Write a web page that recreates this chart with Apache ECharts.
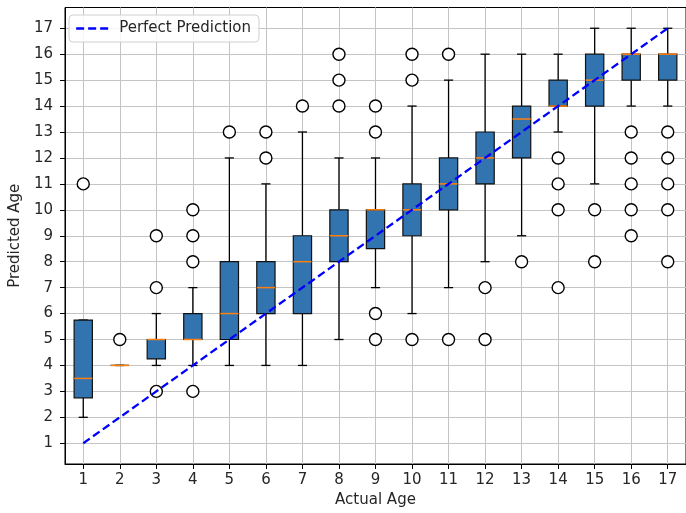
<!DOCTYPE html>
<html>
<head>
<meta charset="utf-8">
<script src="https://cdn.jsdelivr.net/npm/echarts@6/dist/echarts.min.js"></script>
<style>
html,body{margin:0;padding:0;background:#fff;}
#chart{width:686px;height:513px;}
</style>
</head>
<body>
<div id="chart"></div>
<script>
// ---- data ----
const categories = ['1','2','3','4','5','6','7','8','9','10','11','12','13','14','15','16','17'];
const whiskerLow  = [2,    4, 4,    4, 4, 4, 4, 5, 7,   6,  7,  8,  9,    13, 11, 14, 14];
const q1          = [2.75, 4, 4.25, 5, 5, 6, 6, 8, 8.5, 9,  10, 11, 12,   14, 14, 15, 15];
const median      = [3.5,  4, 5,    5, 6, 7, 8, 9, 10,  10, 11, 12, 13.5, 14, 15, 16, 16];
const q3          = [5.75, 4, 5,    6, 8, 8, 9, 10,10,  11, 12, 13, 14,   15, 16, 16, 16];
const whiskerHigh = [5.75, 4, 6,    7, 12,11,13,12,12,  14, 15, 16, 16,   16, 17, 17, 17];
const outliers = [
  [11], [5], [3,7,9], [3,8,9,10], [13], [12,13], [14], [14,15,16],
  [5,6,13,14], [5,15,16], [5,16], [5,7], [8], [7,10,11,12], [8,10],
  [9,10,11,12,13], [8,10,11,12,13]
];
const perfectX = ['1','17'];
const perfectY = [1, 17];
const yTicks = [1,2,3,4,5,6,7,8,9,10,11,12,13,14,15,16,17];

// ---- build series data ----
const boxData = categories.map((c, i) => [i, whiskerLow[i], q1[i], median[i], q3[i], whiskerHigh[i]]);
const outlierData = [];
outliers.forEach((arr, i) => arr.forEach(v => outlierData.push([i, v])));
const lineData = perfectX.map((x, i) => [x, perfectY[i]]);

const FONT = 'DejaVu Sans';
const TXT = '#262626';

const chart = echarts.init(document.getElementById('chart'), null, {renderer: 'canvas'});
chart.setOption({
  animation: false,
  backgroundColor: '#ffffff',
  textStyle: {fontFamily: FONT},
  grid: {
    left: 61.5, top: 7.5, width: 630.3, height: 456.5,
    show: true, borderColor: '#000', borderWidth: 1, backgroundColor: 'transparent',
    containLabel: false
  },
  legend: {
    left: 69, top: 15,
    data: ['Perfect Prediction'],
    orient: 'horizontal',
    backgroundColor: 'rgba(255,255,255,0.85)',
    borderColor: '#d0d0d0', borderWidth: 1, borderRadius: 4,
    padding: [6, 8, 6, 6],
    itemWidth: 32, itemHeight: 14,
    textStyle: {fontFamily: FONT, fontSize: 15, color: TXT, padding: [0, 0, 0, 6]},
    itemStyle: {opacity: 0},
    lineStyle: {type: [8, 4], width: 2.3, color: '#0000ff'}
  },
  xAxis: {
    type: 'category',
    data: categories,
    boundaryGap: true,
    name: 'Actual Age',
    nameLocation: 'middle',
    nameGap: 29,
    nameTextStyle: {fontFamily: FONT, fontSize: 15, color: TXT},
    axisLine: {show: true, lineStyle: {color: '#000', width: 1}},
    axisTick: {show: true, alignWithLabel: true, length: 5, lineStyle: {color: '#000', width: 1}},
    axisLabel: {fontFamily: FONT, fontSize: 15, color: TXT, margin: 9, interval: 0},
    splitLine: {show: true, alignWithLabel: true, interval: 0, lineStyle: {color: '#c4c4c4', width: 1}}
  },
  yAxis: {
    type: 'value',
    min: 0.2, max: 17.8,
    splitNumber: 17,
    name: 'Predicted Age',
    nameLocation: 'middle',
    nameGap: 36,
    nameTextStyle: {fontFamily: FONT, fontSize: 15, color: TXT},
    axisLine: {show: true, lineStyle: {color: '#000', width: 1}},
    axisTick: {show: true, length: 5, customValues: yTicks, lineStyle: {color: '#000', width: 1}},
    axisLabel: {fontFamily: FONT, fontSize: 15, color: TXT, margin: 12, customValues: yTicks},
    splitLine: {show: true, lineStyle: {color: '#c4c4c4', width: 1}}
  },
  series: [
    {
      name: 'box',
      type: 'custom',
      data: boxData,
      encode: {x: 0, y: [1, 2, 3, 4, 5]},
      clip: false,
      z: 3,
      renderItem: function (params, api) {
        const x = api.value(0);
        const pLo = api.coord([x, api.value(1)]);
        const pQ1 = api.coord([x, api.value(2)]);
        const pMd = api.coord([x, api.value(3)]);
        const pQ3 = api.coord([x, api.value(4)]);
        const pHi = api.coord([x, api.value(5)]);
        const band = api.size([1, 0])[0];
        const bw = band * 0.5, cw = band * 0.25;
        const cx = pLo[0];
        const wStyle = {stroke: '#000', lineWidth: 1.3, fill: null};
        return {
          type: 'group',
          children: [
            {type: 'line', shape: {x1: cx, y1: pQ1[1], x2: cx, y2: pLo[1]}, style: wStyle},
            {type: 'line', shape: {x1: cx, y1: pQ3[1], x2: cx, y2: pHi[1]}, style: wStyle},
            {type: 'line', shape: {x1: cx - cw / 2, y1: pLo[1], x2: cx + cw / 2, y2: pLo[1]}, style: wStyle},
            {type: 'line', shape: {x1: cx - cw / 2, y1: pHi[1], x2: cx + cw / 2, y2: pHi[1]}, style: wStyle},
            {type: 'rect', shape: {x: cx - bw / 2, y: pQ3[1], width: bw, height: pQ1[1] - pQ3[1]},
              style: {fill: '#3274b0', stroke: '#111', lineWidth: 1.2}},
            {type: 'line', shape: {x1: cx - bw / 2, y1: pMd[1], x2: cx + bw / 2, y2: pMd[1]},
              style: {stroke: '#ff7f0e', lineWidth: 1.5}}
          ]
        };
      }
    },
    {
      name: 'outliers',
      type: 'scatter',
      data: outlierData,
      symbol: 'circle',
      symbolSize: 12,
      z: 4,
      itemStyle: {color: '#ffffff', borderColor: '#000', borderWidth: 1.4, opacity: 1}
    },
    {
      name: 'Perfect Prediction',
      type: 'line',
      data: lineData,
      symbol: 'none',
      z: 5,
      lineStyle: {color: '#0000ff', width: 2.3, type: [8, 4]},
      itemStyle: {color: '#0000ff'}
    }
  ]
});
</script>
</body>
</html>
